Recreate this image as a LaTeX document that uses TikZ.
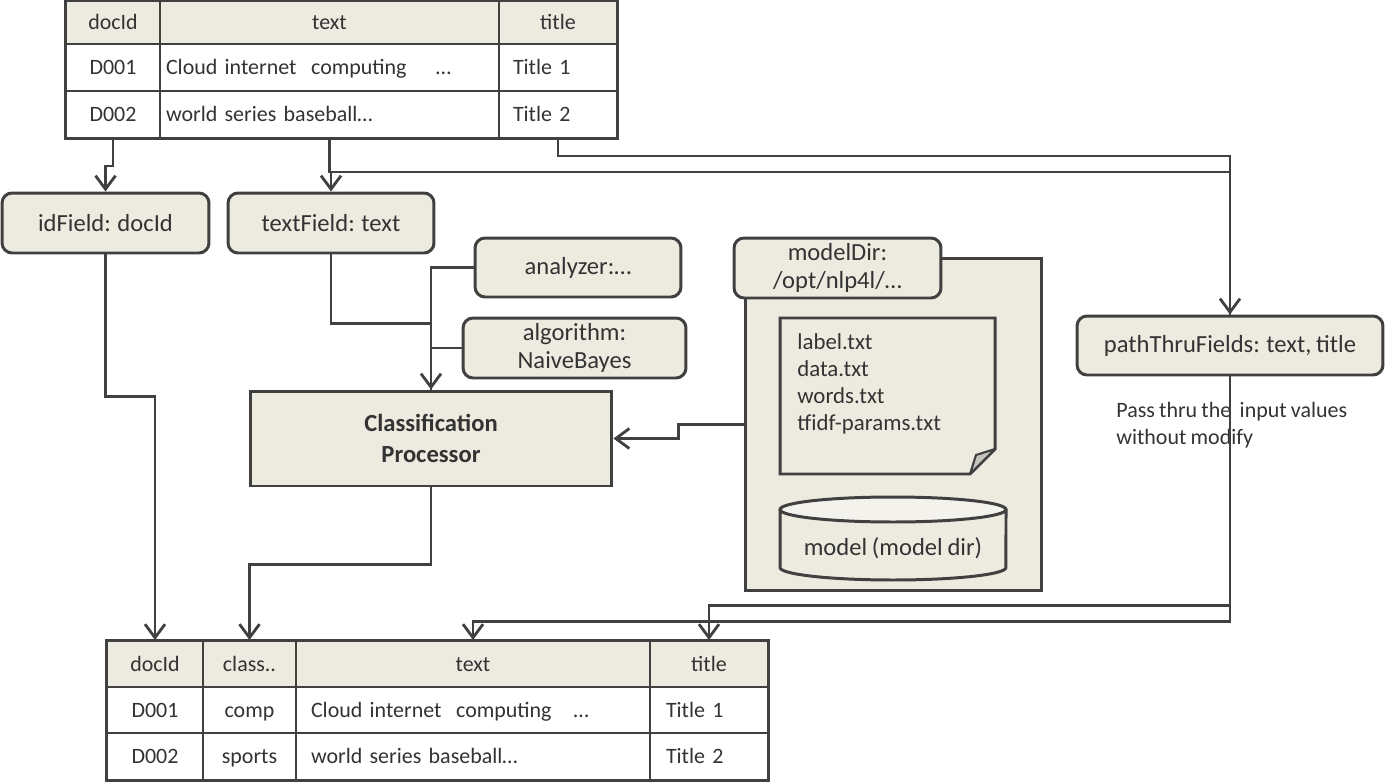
\documentclass[tikz,border=0pt]{standalone}
\usepackage{fontspec}
\setmainfont{Carlito}[WordSpace=0.85]
\usetikzlibrary{arrows.meta}
\definecolor{linegray}{HTML}{404040}
\definecolor{boxfill}{HTML}{EDEAE0}
\definecolor{textgray}{HTML}{333333}
\definecolor{foldgray}{HTML}{C4C4BC}
\definecolor{lidfill}{HTML}{F4F2EC}
\tikzset{
  field/.style={draw=linegray,fill=boxfill,line width=1.7pt,rounded corners=0.2cm,text=textgray,
    font=\fontsize{14}{15.5}\selectfont,align=center,inner sep=0pt,minimum height=1.2cm},
  hcell/.style={draw=linegray,fill=boxfill,line width=1.1pt,text=textgray,
    font=\fontsize{12.5}{15}\selectfont,inner sep=0pt,text height=1em,text depth=0.16em},
  cell/.style={hcell,fill=white},
  wire/.style={draw=linegray,line width=1.6pt},
  feed/.style={wire,-{Straight Barb[length=0.27cm,width=0.4cm]}},
  note/.style={text=textgray,inner sep=0pt,anchor=north west,align=left}
}
\begin{document}
\begin{tikzpicture}[x=0.02cm,y=-0.02cm]
\useasboundingbox (0,0) rectangle (1396,784);
\draw (113,22.5) node[hcell,minimum width=1.88cm,minimum height=0.86cm](InDocId) {docId};
\draw (329.5,22.5) node[hcell,minimum width=6.78cm,minimum height=0.86cm](InText) {text};
\draw (558,22.5) node[hcell,minimum width=2.36cm,minimum height=0.86cm](InTitle) {title};
	\draw (113,67.5) node[cell,minimum width=1.88cm,minimum height=0.94cm](InId1) {D001};
	\draw (329.5,67.5) node[cell,text width=6.54cm,inner xsep=0.12cm,minimum height=0.94cm,align=left](InText1) {Cloud internet\ \ computing\ \ \ \ …};
	\draw (558,67.5) node[cell,text width=1.8cm,inner xsep=0.28cm,minimum height=0.94cm,align=left](InTitle1) {Title 1};
	\draw (113,114.5) node[cell,minimum width=1.88cm,minimum height=0.94cm](InId2) {D002};
	\draw (329.5,114.5) node[cell,text width=6.54cm,inner xsep=0.12cm,minimum height=0.94cm,align=left](InText2) {world series baseball…};
	\draw (558,114.5) node[cell,text width=1.8cm,inner xsep=0.28cm,minimum height=0.94cm,align=left](InTitle2) {Title 2};
\draw[linegray,line width=1.5pt] (InDocId.north west) rectangle (InTitle2.south east);

\draw (105.5,223) node[field,minimum width=4.14cm](IdField) {idField: docId};
\draw (331,223) node[field,minimum width=4.12cm](TextField) {textField: text};
\draw (578,267.5) node[field,minimum width=4.12cm,minimum height=1.18cm](Analyzer) {analyzer:…};
\draw (574.5,348) node[field,minimum width=4.46cm](Algorithm) {algorithm:\\NaiveBayes};
\draw (431,438.5) node[field,rounded corners=0pt,minimum width=7.24cm,minimum height=1.9cm,
  font=\fontsize{14}{17.5}\selectfont\bfseries](Classif) {Classification\\Processor};

\draw (893.5,424.5) node[field,rounded corners=0pt,minimum width=5.94cm,minimum height=6.66cm](ModelFolder) {};
\draw (837.5,268) node[field,minimum width=4.14cm](ModelDir) {modelDir:\\/opt/nlp4l/…};
	\filldraw[draw=linegray,fill=boxfill,line width=1.7pt] (780,318) -- (995,318) -- (995,449) -- (970,474) -- (780,474) -- cycle;
	\filldraw[draw=linegray,fill=foldgray,line width=1.2pt,line join=round] (995,449) -- (970,474) -- (976,455) -- cycle;
	\draw (797,333) node[note,font=\fontsize{13}{15.4}\selectfont](Files) {label.txt\\data.txt\\words.txt\\tfidf-params.txt};
	\filldraw[draw=linegray,fill=boxfill,line width=1.7pt] (780,509.5) -- (780,567.5) arc[start angle=180,end angle=360,x radius=2.26cm,y radius=0.25cm] -- (1006,509.5);
	\filldraw[draw=linegray,fill=lidfill,line width=1.7pt] (893,509.5) ellipse[x radius=2.26cm,y radius=0.25cm];
	\draw (893,548) node[text=textgray,font=\fontsize{14}{17}\selectfont](ModelStore) {model (model dir)};

\draw (1230,345.5) node[field,minimum width=6.12cm,minimum height=1.18cm](PathThru) {pathThruFields: text, title};
\draw (1116,402) node[note,font=\fontsize{12.5}{15.4}\selectfont](PassNote) {Pass thru the\ \ input values\\without modify};

\draw (155,664) node[hcell,minimum width=1.92cm,minimum height=0.92cm](OutDocId) {docId};
\draw (249.5,664) node[hcell,minimum width=1.86cm,minimum height=0.92cm](OutClass) {class..};
\draw (473,664) node[hcell,minimum width=7.08cm,minimum height=0.92cm](OutText) {text};
\draw (709,664) node[hcell,minimum width=2.36cm,minimum height=0.92cm](OutTitle) {title};
	\draw (155,710) node[cell,minimum width=1.92cm,minimum height=0.92cm](OutId1) {D001};
	\draw (249.5,710) node[cell,minimum width=1.86cm,minimum height=0.92cm](OutClass1) {comp};
	\draw (473,710) node[cell,text width=6.48cm,inner xsep=0.3cm,minimum height=0.92cm,align=left](OutText1) {Cloud internet\ \ computing\ \ \ …};
	\draw (709,710) node[cell,text width=1.72cm,inner xsep=0.32cm,minimum height=0.92cm,align=left](OutTitle1) {Title 1};
	\draw (155,756.5) node[cell,minimum width=1.92cm,minimum height=0.94cm](OutId2) {D002};
	\draw (249.5,756.5) node[cell,minimum width=1.86cm,minimum height=0.94cm](OutClass2) {sports};
	\draw (473,756.5) node[cell,text width=6.48cm,inner xsep=0.3cm,minimum height=0.94cm,align=left](OutText2) {world series baseball…};
	\draw (709,756.5) node[cell,text width=1.72cm,inner xsep=0.32cm,minimum height=0.94cm,align=left](OutTitle2) {Title 2};
\draw[linegray,line width=1.5pt] (OutDocId.north west) rectangle (OutTitle2.south east);

\draw[feed] (InId2.south) -- ++(0,27) -| (IdField.north);
\draw[feed] (InText2.south) -- ++(0,33) -| (TextField.north);
\draw[feed] (InText2.south) ++(0,33) -| (PathThru.north);
\draw[wire] (InTitle2.south) -- ++(0,17) -| (PathThru.north);
\draw[feed] (TextField.south) -- ++(0,69) -| (Classif.north);
\draw[wire] (Analyzer.west) -| (Classif.north);
\draw[wire] (Algorithm.west) -- (Algorithm.west -| Classif.north);
\draw[feed] (ModelFolder.west) -- ++(-65,0) |- (Classif.east);
\draw[feed] (IdField.south) -- ++(0,142) -| (OutDocId.north);
\draw[feed] (Classif.south) -- ++(0,77) -| (OutClass.north);
\draw[feed] (PathThru.south) -- ++(0,229) -| (OutTitle.north);
\draw[feed] (PathThru.south) -- ++(0,245) -| (OutText.north);
\end{tikzpicture}
\end{document}
